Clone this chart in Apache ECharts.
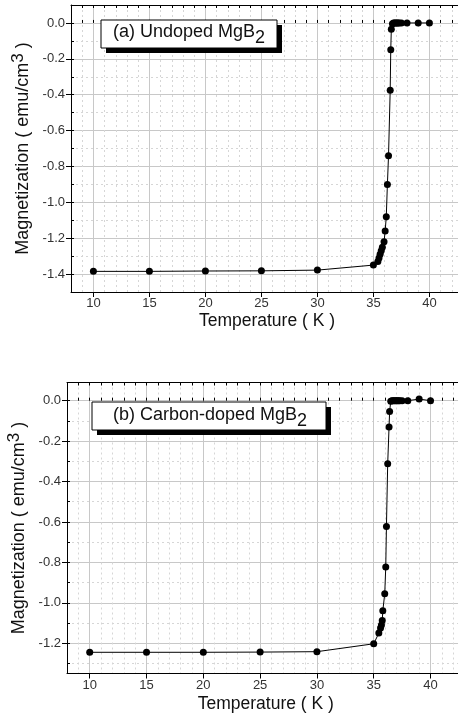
<!DOCTYPE html>
<html>
<head>
<meta charset="utf-8">
<script src="https://cdn.jsdelivr.net/npm/echarts@6/dist/echarts.min.js"></script>
<style>html,body{margin:0;padding:0;background:#fff;}#c{width:458px;height:727px;}</style>
</head>
<body>
<div id="c"></div>
<script>
// ---- data ----
const tempA = [10, 15, 20, 25, 30, 35, 35.4, 35.5, 35.6, 35.7, 35.8, 35.95, 36.05, 36.15, 36.25, 36.35, 36.5, 36.55, 36.6, 36.7, 36.8, 36.9, 37.0, 37.1, 37.2, 37.3, 37.5, 38, 39, 40];
const magA  = [-1.385, -1.385, -1.383, -1.382, -1.378, -1.35, -1.33, -1.31, -1.29, -1.27, -1.25, -1.22, -1.16, -1.08, -0.90, -0.74, -0.375, -0.15, -0.035, -0.005, 0, 0, 0, 0, 0, 0, 0, 0, 0, 0];
const tempB = [10, 15, 20, 25, 30, 35, 35.45, 35.6, 35.68, 35.75, 35.8, 35.97, 36.06, 36.12, 36.23, 36.35, 36.4, 36.5, 36.6, 36.7, 36.8, 36.9, 37.0, 37.1, 37.2, 37.3, 37.5, 38, 39, 40];
const magB  = [-1.245, -1.245, -1.245, -1.244, -1.242, -1.203, -1.15, -1.125, -1.11, -1.088, -1.04, -0.955, -0.823, -0.622, -0.312, -0.13, -0.053, -0.003, 0, 0, 0, 0, 0, 0, 0, 0, 0, 0, 0.008, 0];

const xMajorTicks = [10, 15, 20, 25, 30, 35, 40];
const xMinorTicks = [8, 9, 10, 11, 12, 13, 14, 15, 16, 17, 18, 19, 20, 21, 22, 23, 24, 25, 26, 27, 28, 29, 30, 31, 32, 33, 34, 35, 36, 37, 38, 39, 40, 41, 42, 43];
const yMajorTicksA = [-1.4, -1.2, -1.0, -0.8, -0.6, -0.4, -0.2, 0.0];
const yMinorTicksA = [-1.5, -1.4, -1.3, -1.2, -1.1, -1.0, -0.9, -0.8, -0.7, -0.6, -0.5, -0.4, -0.3, -0.2, -0.1, 0.0, 0.1];
const yMajorTicksB = [-1.2, -1.0, -0.8, -0.6, -0.4, -0.2, 0.0];
const yMinorTicksB = [-1.3, -1.2, -1.1, -1.0, -0.9, -0.8, -0.7, -0.6, -0.5, -0.4, -0.3, -0.2, -0.1, 0.0];

const xName = 'Temperature ( K )';
const yNameMain = 'Magnetization ( emu/cm';
const yNameSup = '3';
const yNameEnd = ' )';
const labelA = ['(a) Undoped MgB', '2'];
const labelB = ['(b) Carbon-doped MgB', '2'];

// ---- chart ----
const FONT = 'Liberation Sans, Arial, sans-serif';
const chart = echarts.init(document.getElementById('c'), null, {renderer: 'canvas'});

function pairs(xs, ys) { return xs.map((x, i) => [x, ys[i]]); }

function xAxesFor(g, xMin, xMax, nameGap) {
  return [
    { // minor (dotted grid)
      gridIndex: g, type: 'value', min: xMin, max: xMax, position: 'bottom',
      axisLine: {show: false}, axisLabel: {show: false},
      axisTick: {show: true, inside: true, length: 3, customValues: xMinorTicks, lineStyle: {color: '#000'}},
      splitLine: {show: true, lineStyle: {color: '#d6d6d6', width: 1, type: [2, 3]}}
    },
    { // major
      gridIndex: g, type: 'value', min: xMin, max: xMax, position: 'bottom',
      axisLine: {show: true, onZero: false, lineStyle: {color: '#000', width: 1}},
      axisTick: {show: true, inside: false, length: 5, customValues: xMajorTicks, lineStyle: {color: '#000'}},
      axisLabel: {customValues: xMajorTicks, margin: 5, fontSize: 13, color: '#333', fontFamily: FONT},
      splitLine: {show: true, lineStyle: {color: '#c8c8c8', width: 1}},
      name: xName, nameLocation: 'middle', nameGap: nameGap,
      nameTextStyle: {fontSize: 17.5, color: '#111', fontFamily: FONT}
    },
    { // top mirror
      gridIndex: g, type: 'value', min: xMin, max: xMax, position: 'top',
      axisLine: {show: true, onZero: false, lineStyle: {color: '#000', width: 1}},
      axisTick: {show: true, inside: true, length: 3, customValues: xMinorTicks, lineStyle: {color: '#000'}},
      axisLabel: {show: false}, splitLine: {show: false}
    }
  ];
}

function yAxesFor(g, yMin, yMax, major, minor, nameGap) {
  return [
    { // minor
      gridIndex: g, type: 'value', min: yMin, max: yMax, position: 'left',
      axisLine: {show: false}, axisLabel: {show: false},
      axisTick: {show: true, inside: true, length: 3, customValues: minor, lineStyle: {color: '#000'}},
      splitLine: {show: true, lineStyle: {color: '#d6d6d6', width: 1, type: [2, 3]}}
    },
    { // major
      gridIndex: g, type: 'value', min: yMin, max: yMax, position: 'left',
      axisLine: {show: true, onZero: false, lineStyle: {color: '#000', width: 1}},
      axisTick: {show: true, inside: false, length: 5, customValues: major, lineStyle: {color: '#000'}},
      axisLabel: {customValues: major, margin: 6, fontSize: 13, color: '#333', fontFamily: FONT,
                  formatter: v => v.toFixed(1)},
      splitLine: {show: true, lineStyle: {color: '#c8c8c8', width: 1}},
      name: '{n|' + yNameMain + '}{s|' + yNameSup + '}{n|' + yNameEnd + '}',
      nameLocation: 'middle', nameGap: nameGap,
      nameTextStyle: {
        color: '#111', fontFamily: FONT, fontSize: 18,
        rich: {
          n: {fontSize: 18, padding: [4, 0, 0, 0], verticalAlign: 'top', color: '#111', fontFamily: FONT},
          s: {fontSize: 17, verticalAlign: 'top', color: '#111', fontFamily: FONT}
        }
      }
    }
  ];
}

function boxGraphic(x, y, w, h, textDx, textDy, parts) {
  return [
    {type: 'rect', shape: {x: x + 5, y: y + 5, width: w, height: h}, style: {fill: '#000'}, z: 100},
    {type: 'rect', shape: {x: x, y: y, width: w, height: h}, style: {fill: '#fff', stroke: '#000', lineWidth: 1}, z: 101},
    {type: 'text', x: x + textDx, y: y + textDy, z: 102,
     style: {
       text: '{t|' + parts[0] + '}{s|' + parts[1] + '}',
       align: 'left', verticalAlign: 'top', fill: '#111',
       rich: {
         t: {fontSize: 18, verticalAlign: 'top', fontFamily: FONT, fill: '#111'},
         s: {fontSize: 18, padding: [6, 0, 0, 0], verticalAlign: 'top', fontFamily: FONT, fill: '#111'}
       }
     }}
  ];
}

const option = {
  animation: false,
  backgroundColor: '#fff',
  grid: [
    {left: 71, top: 5, width: 392, height: 287, containLabel: false, outerBoundsMode: 'none'},
    {left: 67, top: 382.5, width: 397.6, height: 291, containLabel: false, outerBoundsMode: 'none'}
  ],
  xAxis: [].concat(xAxesFor(0, 8, 43, 20), xAxesFor(1, 8, 43, 22)),
  yAxis: [].concat(
    yAxesFor(0, -1.5, 0.1, yMajorTicksA, yMinorTicksA, 30),
    yAxesFor(1, -1.35, 0.09, yMajorTicksB, yMinorTicksB, 26)
  ),
  series: [
    {type: 'line', xAxisIndex: 1, yAxisIndex: 1, data: pairs(tempA, magA),
     symbol: 'circle', symbolSize: 7, itemStyle: {color: '#000'}, lineStyle: {color: '#000', width: 1}, z: 20},
    {type: 'line', xAxisIndex: 4, yAxisIndex: 3, data: pairs(tempB, magB),
     symbol: 'circle', symbolSize: 7, itemStyle: {color: '#000'}, lineStyle: {color: '#000', width: 1}, z: 20}
  ],
  graphic: [].concat(
    boxGraphic(101, 20, 176, 28, 12, 3, labelA),
    boxGraphic(92, 402, 234, 28, 21, 4, labelB)
  )
};
chart.setOption(option);
</script>
</body>
</html>
